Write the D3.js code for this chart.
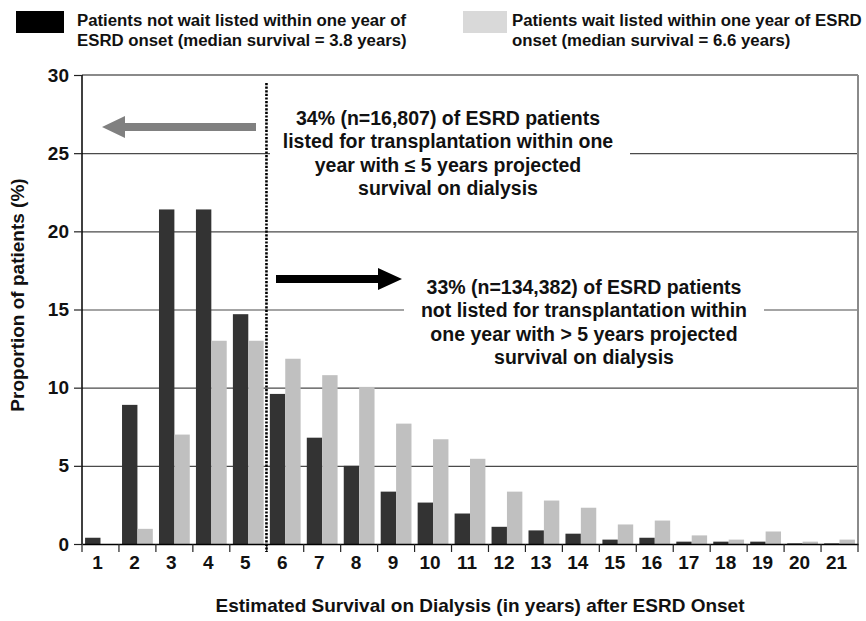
<!DOCTYPE html>
<html>
<head>
<meta charset="utf-8">
<script src="https://cdn.jsdelivr.net/npm/d3@7"></script>
<style>
  body { margin: 0; background: #fff; }
  text { font-family: "Liberation Sans", Arial, Helvetica, sans-serif; font-weight: bold; fill: #111; }
</style>
</head>
<body>
<div id="chart"></div>
<script>
// categories: estimated survival on dialysis (years)
var years = ["1","2","3","4","5","6","7","8","9","10","11","12","13","14","15","16","17","18","19","20","21"];
// % of patients
var notListed = [0.4, 8.9, 21.4, 21.4, 14.7, 9.6, 6.8, 5.0, 3.35, 2.65, 1.95, 1.1, 0.87, 0.66, 0.28, 0.4, 0.15, 0.15, 0.15, 0.04, 0.04];
var listed    = [0, 0.97, 7.0, 13.0, 13.0, 11.85, 10.8, 10.05, 7.7, 6.7, 5.45, 3.35, 2.78, 2.32, 1.25, 1.5, 0.55, 0.28, 0.8, 0.15, 0.28];
var yTicks = [0, 5, 10, 15, 20, 25, 30];

var legendLabels = [
  ["Patients not wait listed within one year of", "ESRD onset  (median survival = 3.8 years)"],
  ["Patients wait listed within one year of ESRD", "onset (median survival = 6.6 years)"]
];
var note1 = ["34% (n=16,807) of ESRD patients", "listed for transplantation within one", "year with \u2264 5 years projected", "survival on dialysis"];
var note2 = ["33% (n=134,382) of ESRD patients", "not listed for transplantation within", "one year with > 5 years projected", "survival on dialysis"];

var m = [75, 8, 77, 82]; // top right bottom left
var W = 866, H = 621;
var w = W - m[1] - m[3];
var h = H - m[0] - m[2];

var svg = d3.select("#chart").append("svg")
    .attr("width", W)
    .attr("height", H);

var g = svg.append("g").attr("transform", "translate(" + m[3] + "," + m[0] + ")");

var x = d3.scaleBand().domain(years).range([0, w]).paddingInner(0).paddingOuter(0);
var xs = d3.scaleBand().domain(["notListed", "listed"]).range([0, x.bandwidth()])
    .paddingInner(0).paddingOuter(0.2);
var y = d3.scaleLinear().domain([0, 30]).range([h, 0]);

// gridlines
g.append("g")
    .attr("class", "grid")
    .call(d3.axisLeft(y).tickValues(yTicks.slice(1, 6)).tickSize(-w).tickFormat(""))
    .call(function (s) {
        s.select(".domain").remove();
        s.selectAll("line").attr("stroke", "#4a4a4a").attr("stroke-width", 1.2);
    });

// top and right frame (grey)
g.append("line").attr("x1", 0).attr("x2", w).attr("y1", y(30)).attr("y2", y(30))
    .attr("stroke", "#8a8a8a").attr("stroke-width", 2);
g.append("line").attr("x1", w).attr("x2", w).attr("y1", y(30)).attr("y2", y(0))
    .attr("stroke", "#8a8a8a").attr("stroke-width", 2);

// bars
var rows = years.map(function (c, i) { return { c: c, notListed: notListed[i], listed: listed[i] }; });
var colors = { notListed: "#333333", listed: "#c0c0c0" };

var groups = g.selectAll(".cat").data(rows).enter().append("g")
    .attr("transform", function (d) { return "translate(" + x(d.c) + ",0)"; });
groups.selectAll("rect")
    .data(function (d) { return ["notListed", "listed"].map(function (k) { return { k: k, v: d[k] }; }); })
    .enter().append("rect")
    .attr("x", function (d) { return xs(d.k); })
    .attr("width", xs.bandwidth())
    .attr("y", function (d) { return y(d.v); })
    .attr("height", function (d) { return y(0) - y(d.v); })
    .attr("fill", function (d) { return colors[d.k]; });

// white boxes behind the notes (they cut the gridlines)
g.append("rect").attr("x", 270 - m[3]).attr("y", 88 - m[0]).attr("width", 360).attr("height", 118).attr("fill", "#fff");
g.append("rect").attr("x", 404 - m[3]).attr("y", 262 - m[0]).attr("width", 360).attr("height", 110).attr("fill", "#fff");

// y axis
g.append("g")
    .call(d3.axisLeft(y).tickValues(yTicks).tickSize(8).tickPadding(5))
    .call(function (s) {
        s.select(".domain").attr("stroke", "#000").attr("stroke-width", 1.5).attr("d", "M0," + y(30) + "V" + y(0));
        s.selectAll("line").attr("stroke", "#222").attr("stroke-width", 1.2);
        s.selectAll("text").style("font-size", "19px").attr("fill", "#111");
    });

// x axis: labels centred, ticks on category boundaries
g.append("g")
    .attr("transform", "translate(0," + h + ")")
    .call(d3.axisBottom(x).tickSize(0).tickPadding(12))
    .call(function (s) {
        s.select(".domain").attr("stroke", "#000").attr("stroke-width", 1.5);
        s.selectAll("text").style("font-size", "19px").attr("dx", "-3").attr("fill", "#111");
    });
var bounds = years.map(function (c) { return x(c); }).concat([w]);
g.selectAll(".xb").data(bounds).enter().append("line")
    .attr("x1", function (d) { return d; }).attr("x2", function (d) { return d; })
    .attr("y1", h).attr("y2", h + 8)
    .attr("stroke", "#222").attr("stroke-width", 1.2);

// dotted divider between 5 and 6 years
var divX = x("6") - 0.3;
g.append("line")
    .attr("x1", divX).attr("x2", divX)
    .attr("y1", 83 - m[0]).attr("y2", h + 8)
    .attr("stroke", "#000").attr("stroke-width", 2.6)
    .attr("stroke-dasharray", "2.2,1.4");

// arrows
function arrow(x0, x1, yc, head, col) {
    var dir = x1 > x0 ? 1 : -1;
    var hx = x1 - dir * head;
    var p = [[x0, yc - 4], [hx, yc - 4], [hx, yc - 11], [x1, yc], [hx, yc + 11], [hx, yc + 4], [x0, yc + 4]];
    svg.append("path").attr("d", "M" + p.join("L") + "Z").attr("fill", col);
}
arrow(256, 102, 127, 23, "#808080");
arrow(276, 402, 279, 24, "#000");

// notes
function note(lines, cx, y0) {
    var t = svg.append("text").attr("text-anchor", "middle").style("font-size", "19.5px");
    lines.forEach(function (l, i) {
        t.append("tspan").attr("x", cx).attr("y", y0 + i * 23.4).text(l);
    });
}
note(note1, 448, 125);
note(note2, 584, 294);

// legend
var legendFill = ["#000", "#d9d9d9"];
var legX = [[16, 48, 77], [463, 44, 512]];
legendLabels.forEach(function (lab, i) {
    svg.append("rect").attr("x", legX[i][0]).attr("y", 11).attr("width", legX[i][1]).attr("height", 22)
        .attr("fill", legendFill[i]);
    var t = svg.append("text").style("font-size", "16.8px");
    lab.forEach(function (l, j) {
        t.append("tspan").attr("x", legX[i][2]).attr("y", 26 + j * 20).text(l);
    });
});

// axis titles
svg.append("text")
    .attr("text-anchor", "middle")
    .attr("transform", "translate(24,295) rotate(-90)")
    .style("font-size", "19px")
    .text("Proportion of patients (%)");
svg.append("text")
    .attr("text-anchor", "middle")
    .attr("x", 480).attr("y", 612)
    .style("font-size", "19px")
    .text("Estimated Survival on Dialysis (in years) after ESRD Onset");
</script>
</body>
</html>
